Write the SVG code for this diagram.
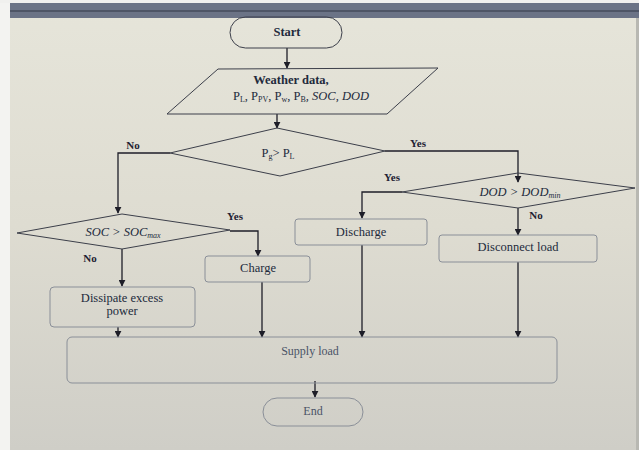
<svg xmlns="http://www.w3.org/2000/svg" width="639" height="450" viewBox="0 0 639 450">
<defs>
<linearGradient id="bg" x1="0" y1="0" x2="0" y2="1">
<stop offset="0" stop-color="#e6e5da"/>
<stop offset="0.5" stop-color="#dedcd1"/>
<stop offset="1" stop-color="#cfcec7"/>
</linearGradient>
<marker id="ah" viewBox="0 0 10 10" refX="9" refY="5" markerWidth="7" markerHeight="7" orient="auto" markerUnits="userSpaceOnUse">
<path d="M0,0 L10,5 L0,10 z" fill="#1e1e28"/>
</marker>
<style>
.t{font-family:"Liberation Serif","Times New Roman",serif;font-size:12.5px;fill:#222a3c;text-anchor:middle}
.tl{font-family:"Liberation Serif","Times New Roman",serif;font-size:12px;fill:#4a5366;text-anchor:middle}
.lab{font-family:"Liberation Serif","Times New Roman",serif;font-size:11px;fill:#1e2233;text-anchor:middle;font-weight:bold}
.sub{font-size:8px}
.shp{fill:none;stroke:#3c3f4a;stroke-width:1}
.box{fill:none;stroke:#8a8f98;stroke-width:1}
.arr{fill:none;stroke:#1e1e28;stroke-width:1.3;marker-end:url(#ah)}
</style>
</defs>
<rect x="0" y="0" width="639" height="450" fill="url(#bg)"/>
<rect x="0" y="0" width="10" height="450" fill="#f3f3f1"/>
<rect x="0" y="0" width="639" height="3" fill="#f0f0ee"/>
<rect x="10" y="3" width="629" height="15" fill="#6b7386"/>
<rect x="10" y="10" width="629" height="2" fill="#4e5566"/>
<rect x="636" y="18" width="3" height="432" fill="#b8b8b2"/>

<g id="connectors">
<line class="arr" x1="287" y1="48" x2="287" y2="68"/>
<line class="arr" x1="277" y1="114" x2="277" y2="128"/>
<polyline class="arr" points="170,153 118,153 118,213"/>
<polyline class="arr" points="385,151 518,151 518,182"/>
<polyline class="arr" points="402,192 362,192 362,218"/>
<line class="arr" x1="518" y1="208" x2="518" y2="235"/>
<polyline class="arr" points="230,231 258,231 258,256"/>
<line class="arr" x1="122" y1="249" x2="122" y2="286"/>
<line class="arr" x1="118" y1="327" x2="118" y2="337"/>
<line class="arr" x1="262" y1="282" x2="262" y2="337"/>
<line class="arr" x1="362" y1="245" x2="362" y2="337"/>
<line class="arr" x1="518" y1="262" x2="518" y2="337"/>
<line class="arr" x1="315" y1="381" x2="315" y2="397"/>
<text class="lab" x="133" y="149">No</text>
<text class="lab" x="418" y="147">Yes</text>
<text class="lab" x="392" y="181">Yes</text>
<text class="lab" x="536" y="219">No</text>
<text class="lab" x="235" y="220">Yes</text>
<text class="lab" x="90" y="262">No</text>
</g>

<g id="start">
<rect class="shp" x="230" y="17" width="112" height="31" rx="15.5" stroke-width="1.3"/>
<text class="t" x="287" y="36" font-weight="bold" font-size="12">Start</text>
</g>

<g id="input">
<polygon class="shp" points="218,69 438,68 387,114 167,114"/>
<text class="t" x="291" y="84" font-weight="bold" font-size="12">Weather data,</text>
<text class="t" x="301" y="100" font-size="12.5">P<tspan class="sub" dy="2">L</tspan><tspan dy="-2">, P</tspan><tspan class="sub" dy="2">PV</tspan><tspan dy="-2">, P</tspan><tspan class="sub" dy="2">w</tspan><tspan dy="-2">, P</tspan><tspan class="sub" dy="2">B</tspan><tspan dy="-2" font-style="italic">, SOC, DOD</tspan></text>
</g>

<g id="dec-pg">
<polygon class="shp" points="277,128 385,151 280,176 170,153"/>
<text class="t" x="278" y="157">P<tspan class="sub" dy="2">g</tspan><tspan dy="-2">&gt; P</tspan><tspan class="sub" dy="2">L</tspan></text>
</g>

<g id="dec-dod">
<polygon class="shp" points="518,173 635,188 518,208 402,192"/>
<text class="t" x="520" y="196" font-style="italic">DOD &gt; DOD<tspan class="sub" dy="2">min</tspan></text>
</g>

<g id="dec-soc">
<polygon class="shp" points="122,214 230,230 122,249 17,233"/>
<text class="t" x="123" y="236" font-style="italic">SOC &gt; SOC<tspan class="sub" dy="2">max</tspan></text>
</g>

<g id="discharge">
<rect class="box" x="295" y="219" width="132" height="26" rx="3"/>
<text class="t" x="361" y="236">Discharge</text>
</g>

<g id="disconnect">
<rect class="box" x="439" y="235" width="158" height="27" rx="3"/>
<text class="t" x="518" y="251">Disconnect load</text>
</g>

<g id="charge">
<rect class="box" x="205" y="256" width="105" height="26" rx="3"/>
<text class="t" x="258" y="272">Charge</text>
</g>

<g id="dissipate">
<rect class="box" x="50" y="287" width="145" height="40" rx="4"/>
<text class="t" x="122" y="302">Dissipate excess</text>
<text class="t" x="122" y="315">power</text>
</g>

<g id="supply">
<rect class="box" x="67" y="337" width="490" height="46" rx="5"/>
<text class="tl" x="310" y="355">Supply load</text>
</g>

<g id="end">
<rect class="box" x="263" y="398" width="100" height="28" rx="14"/>
<text class="tl" x="313" y="415">End</text>
</g>
</svg>
